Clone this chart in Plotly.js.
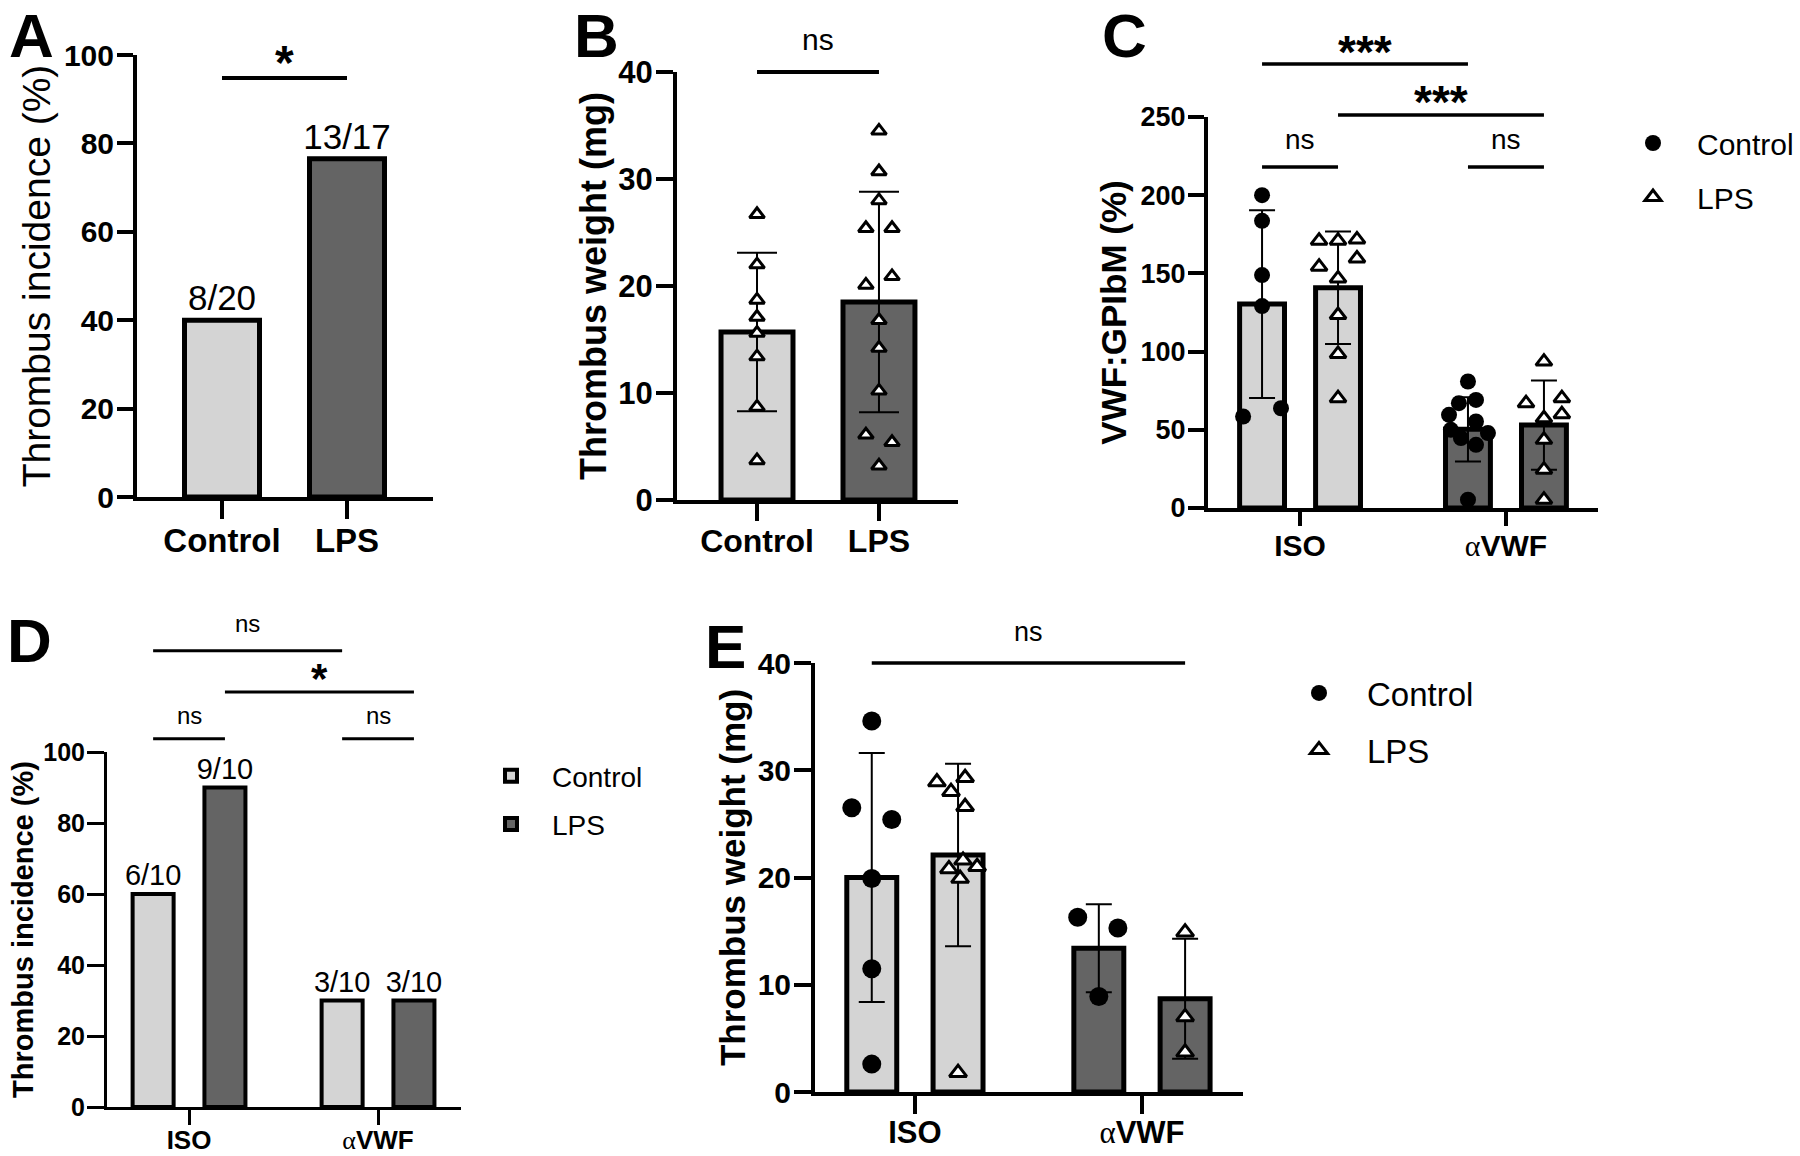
<!DOCTYPE html>
<html>
<head>
<meta charset="utf-8">
<script src="https://cdn.plot.ly/plotly-3.0.1.min.js"></script>
<style>html,body{margin:0;padding:0;background:#ffffff;}</style>
</head>
<body>
<div id="chart" style="width:1800px;height:1156px;"></div>
<script>
// ================= DATA =================
const twoGroupLabels = ['Control', 'LPS'];
const treatmentLabels = ['ISO', 'αVWF'];
const seriesNames = ['Control', 'LPS'];

// Panel A – thrombus incidence (%)
const incidenceA = [40.0, 76.5];
const incidenceALabels = ['8/20', '13/17'];

// Panel B – thrombus weight (mg)
const weightBMean = [15.7, 18.5];
const weightBSD = [7.4, 10.3];
const weightBControl = [26.7, 22.0, 18.7, 17.1, 15.6, 13.4, 8.7, 3.7];
const weightBLPS = [34.5, 30.7, 28.0, 25.4, 25.4, 20.1, 20.9, 16.8, 14.2, 10.2, 6.1, 5.4, 3.2];

// Panel C – VWF:GPIbM (%)
const vwfMeanControl = [130.4, 50.3];
const vwfSDControl = [60.0, 20.5];
const vwfMeanLPS = [140.8, 53.0];
const vwfSDLPS = [36.0, 28.5];
const vwfIsoControl = [200.0, 183.6, 148.9, 129.1, 58.5, 63.8];
const vwfIsoLPS = [170.9, 170.9, 171.7, 154.3, 159.6, 146.8, 123.4, 98.5, 70.2];
const vwfAvwfControl = [80.9, 67.0, 69.1, 59.6, 55.3, 50.0, 44.7, 40.4, 47.9, 5.3];
const vwfAvwfLPS = [93.6, 67.0, 70.2, 60.0, 57.4, 43.6, 24.5, 5.3];

// Panel D – thrombus incidence (%)
const incidenceDControl = [60, 30];
const incidenceDLPS = [90, 30];
const incidenceDControlLabels = ['6/10', '3/10'];
const incidenceDLPSLabels = ['9/10', '3/10'];

// Panel E – thrombus weight (mg)
const weightEMeanControl = [20.0, 13.4];
const weightESDControl = [11.6, 4.1];
const weightEMeanLPS = [22.1, 8.7];
const weightESDLPS = [8.5, 5.6];
const weightEIsoControl = [34.6, 26.5, 25.4, 19.9, 11.5, 2.6];
const weightEIsoLPS = [28.9, 29.3, 28.0, 26.6, 21.6, 20.8, 21.0, 19.9, 1.8];
const weightEAvwfControl = [16.3, 15.3, 8.9];
const weightEAvwfLPS = [14.9, 7.0, 3.7];

// Significance labels
const sigLabelsA = ['*'];
const sigLabelsB = ['ns'];
const sigLabelsC = ['***', '***', 'ns', 'ns'];
const sigLabelsD = ['ns', '*', 'ns', 'ns'];
const sigLabelsE = ['ns'];

// ================= LAYOUT / STYLE =================
const W = 1800, H = 1156;
const FONT = 'Arial, "Liberation Sans", Helvetica, sans-serif';
const LIGHT = '#d4d4d4', DARK = '#646464';
const px = v => v / W;
const py = v => 1 - v / H;

// horizontal spread of the dots (category units)
const jitter = {
  bControl: [0, 0, 0, 0, 0, 0, 0, 0],
  bLPS: [0, 0, 0, -0.107, 0.107, -0.107, 0.107, 0, 0, 0, -0.107, 0.107, 0],
  cIsoControl: [0, 0, 0, 0, -0.092, 0.092],
  cIsoLPS: [-0.092, 0, 0.092, -0.092, 0.092, 0, 0, 0, 0],
  cAvwfControl: [0, -0.044, 0.039, -0.092, 0.039, -0.083, -0.034, 0.039, 0.097, 0],
  cAvwfLPS: [0, -0.087, 0.087, 0.087, 0, 0, 0, 0],
  eIsoControl: [0, -0.088, 0.088, 0, 0, 0],
  eIsoLPS: [-0.093, 0.031, -0.031, 0.031, 0.022, -0.04, 0.084, 0.009, 0],
  eAvwfControl: [-0.093, 0.084, 0],
  eAvwfLPS: [0, 0, 0]
};

const P = {
  A: {x: 'x',  y: 'y',  xd: [137, 433],   yd: [55, 497],    xr: [-0.68, 1.688],  yr: [0, 100], dtick: 20},
  B: {x: 'x2', y: 'y2', xd: [677, 958],   yd: [72, 500],    xr: [-0.656, 1.648], yr: [0, 40],  dtick: 10},
  C: {x: 'x3', y: 'y3', xd: [1208, 1598], yd: [117, 508],   xr: [-0.447, 1.447], yr: [0, 250], dtick: 50},
  D: {x: 'x4', y: 'y4', xd: [107, 461],   yd: [752, 1107],  xr: [-0.434, 1.439], yr: [0, 100], dtick: 20},
  E: {x: 'x5', y: 'y5', xd: [815, 1243],  yd: [663, 1092],  xr: [-0.44, 1.445],  yr: [0, 40],  dtick: 10}
};
const seriesOffset = {C: 0.1845, D: 0.19, E: 0.19};
const barWidth = {A: 0.60, B: 0.59, C: 0.218, D: 0.217, E: 0.22};

function yPaper(k, v) {
  const p = P[k];
  const d0 = py(p.yd[1]), d1 = py(p.yd[0]);
  return d0 + (v - p.yr[0]) / (p.yr[1] - p.yr[0]) * (d1 - d0);
}
function pos(k, g, s) {
  if (s === null || s === undefined) return g;
  return g + (s === 0 ? -1 : 1) * seriesOffset[k];
}

const traces = [];

// ---- A
traces.push({
  type: 'bar', x: [0, 1], y: incidenceA, width: barWidth.A,
  xaxis: P.A.x, yaxis: P.A.y, showlegend: false,
  marker: {color: [LIGHT, DARK], line: {color: 'black', width: 5}},
  text: incidenceALabels, textposition: 'outside', constraintext: 'none', cliponaxis: false,
  textfont: {family: FONT, size: 35, color: 'black'}, hoverinfo: 'skip'
});

// ---- B
traces.push({
  type: 'bar', x: [0, 1], y: weightBMean, width: barWidth.B,
  xaxis: P.B.x, yaxis: P.B.y, showlegend: false,
  marker: {color: [LIGHT, DARK], line: {color: 'black', width: 5}},
  error_y: {type: 'data', array: weightBSD, visible: true, color: 'black', thickness: 2, width: 20},
  hoverinfo: 'skip'
});
const triB = {symbol: 'triangle-up', size: 13, color: 'white', line: {color: 'black', width: 3}};
traces.push({
  type: 'scatter', mode: 'markers', xaxis: P.B.x, yaxis: P.B.y, showlegend: false, cliponaxis: false,
  x: weightBControl.map((v, i) => 0 + jitter.bControl[i]), y: weightBControl, marker: triB
});
traces.push({
  type: 'scatter', mode: 'markers', xaxis: P.B.x, yaxis: P.B.y, showlegend: false, cliponaxis: false,
  x: weightBLPS.map((v, i) => 1 + jitter.bLPS[i]), y: weightBLPS, marker: triB
});

// ---- C
function groupedBar(k, s, means, sds, colors, extra) {
  const w = barWidth[k];
  const t = Object.assign({
    type: 'bar', x: [0, 1], y: means, width: w, offset: (s === 0 ? -seriesOffset[k] : seriesOffset[k]) - w / 2,
    xaxis: P[k].x, yaxis: P[k].y, showlegend: false, name: seriesNames[s],
    marker: {color: colors, line: {color: 'black', width: 5}}, cliponaxis: false, hoverinfo: 'skip'
  }, extra || {});
  if (sds) t.error_y = {type: 'data', array: sds, visible: true, color: 'black', thickness: 2, width: 13};
  return t;
}
traces.push(groupedBar('C', 0, vwfMeanControl, vwfSDControl, [LIGHT, DARK]));
traces.push(groupedBar('C', 1, vwfMeanLPS, vwfSDLPS, [LIGHT, DARK]));
traces.push({
  type: 'scatter', mode: 'markers', name: 'Control', legend: 'legend', legendgroup: 'cCtrl', showlegend: true,
  xaxis: P.C.x, yaxis: P.C.y, cliponaxis: false,
  x: vwfIsoControl.map((v, i) => pos('C', 0, 0) + jitter.cIsoControl[i])
      .concat(vwfAvwfControl.map((v, i) => pos('C', 1, 0) + jitter.cAvwfControl[i])),
  y: vwfIsoControl.concat(vwfAvwfControl),
  marker: {symbol: 'circle', size: 16, color: 'black', line: {width: 0}}
});
traces.push({
  type: 'scatter', mode: 'markers', name: 'LPS', legend: 'legend', legendgroup: 'cLps', showlegend: true,
  xaxis: P.C.x, yaxis: P.C.y, cliponaxis: false,
  x: vwfIsoLPS.map((v, i) => pos('C', 0, 1) + jitter.cIsoLPS[i])
      .concat(vwfAvwfLPS.map((v, i) => pos('C', 1, 1) + jitter.cAvwfLPS[i])),
  y: vwfIsoLPS.concat(vwfAvwfLPS),
  marker: {symbol: 'triangle-up', size: 14, color: 'white', line: {color: 'black', width: 3}}
});

// ---- D
traces.push(groupedBar('D', 0, incidenceDControl, null, LIGHT, {
  showlegend: true, legend: 'legend2', legendgroup: 'dCtrl',
  marker: {color: LIGHT, line: {color: 'black', width: 4}},
  text: incidenceDControlLabels, textposition: 'outside', constraintext: 'none',
  textfont: {family: FONT, size: 29, color: 'black'}
}));
traces.push(groupedBar('D', 1, incidenceDLPS, null, DARK, {
  showlegend: true, legend: 'legend2', legendgroup: 'dLps',
  marker: {color: DARK, line: {color: 'black', width: 4}},
  text: incidenceDLPSLabels, textposition: 'outside', constraintext: 'none',
  textfont: {family: FONT, size: 29, color: 'black'}
}));

// ---- E
traces.push(groupedBar('E', 0, weightEMeanControl, weightESDControl, [LIGHT, DARK]));
traces.push(groupedBar('E', 1, weightEMeanLPS, weightESDLPS, [LIGHT, DARK]));
traces.push({
  type: 'scatter', mode: 'markers', name: 'Control', legend: 'legend3', legendgroup: 'eCtrl', showlegend: true,
  xaxis: P.E.x, yaxis: P.E.y, cliponaxis: false,
  x: weightEIsoControl.map((v, i) => pos('E', 0, 0) + jitter.eIsoControl[i])
      .concat(weightEAvwfControl.map((v, i) => pos('E', 1, 0) + jitter.eAvwfControl[i])),
  y: weightEIsoControl.concat(weightEAvwfControl),
  marker: {symbol: 'circle', size: 19, color: 'black', line: {width: 0}}
});
traces.push({
  type: 'scatter', mode: 'markers', name: 'LPS', legend: 'legend3', legendgroup: 'eLps', showlegend: true,
  xaxis: P.E.x, yaxis: P.E.y, cliponaxis: false,
  x: weightEIsoLPS.map((v, i) => pos('E', 0, 1) + jitter.eIsoLPS[i])
      .concat(weightEAvwfLPS.map((v, i) => pos('E', 1, 1) + jitter.eAvwfLPS[i])),
  y: weightEIsoLPS.concat(weightEAvwfLPS),
  marker: {symbol: 'triangle-up', size: 15, color: 'white', line: {color: 'black', width: 3}}
});

// ---- axes
const alpha = '<span style="font-family:Liberation Serif, serif;font-weight:400">α</span>VWF';
const treatTickText = ['ISO', alpha];

function xAxis(k, ticktext, fsize, ticklen, lw, standoff) {
  const p = P[k];
  return {
    domain: [px(p.xd[0]), px(p.xd[1])], range: p.xr, anchor: p.y,
    tickmode: 'array', tickvals: [0, 1], ticktext: ticktext,
    showline: true, linecolor: 'black', linewidth: lw,
    ticks: 'outside', ticklen: ticklen, tickwidth: lw, tickcolor: 'black',
    ticklabelstandoff: standoff,
    tickfont: {family: FONT, size: fsize, color: 'black', weight: 700},
    showgrid: false, zeroline: false, fixedrange: true
  };
}
function yAxis(k, title, tsize, tweight, fsize, ticklen, lw, standoff) {
  const p = P[k];
  return {
    domain: [py(p.yd[1]), py(p.yd[0])], range: p.yr, anchor: p.x,
    tickmode: 'linear', tick0: 0, dtick: p.dtick,
    showline: true, linecolor: 'black', linewidth: lw,
    ticks: 'outside', ticklen: ticklen, tickwidth: lw, tickcolor: 'black',
    ticklabelstandoff: -3,
    tickfont: {family: FONT, size: fsize, color: 'black', weight: 700},
    title: {text: title, font: {family: FONT, size: tsize, color: 'black', weight: tweight}, standoff: standoff},
    showgrid: false, zeroline: false, fixedrange: true
  };
}

const layout = {
  width: W, height: H,
  margin: {l: 0, r: 0, t: 0, b: 0, pad: 0},
  paper_bgcolor: 'white', plot_bgcolor: 'rgba(0,0,0,0)',
  barmode: 'overlay',
  font: {family: FONT, color: 'black'},
  showlegend: true,
  xaxis: xAxis('A', twoGroupLabels, 33, 18, 4, -7),
  yaxis: yAxis('A', 'Thrombus incidence (%)', 39, 400, 30, 16, 4, 2),
  xaxis2: xAxis('B', twoGroupLabels, 32, 17, 4, -7),
  yaxis2: yAxis('B', 'Thrombus weight (mg)', 36, 700, 31, 17, 4, 2),
  xaxis3: xAxis('C', treatTickText, 30, 14, 4, -6),
  yaxis3: yAxis('C', 'VWF:GPIbM (%)', 35, 700, 27, 16, 4, 4),
  xaxis4: xAxis('D', treatTickText, 26, 15, 3, -7),
  yaxis4: yAxis('D', 'Thrombus incidence (%)', 29, 700, 25, 17, 3, 2),
  xaxis5: xAxis('E', treatTickText, 31, 18, 4, -8),
  yaxis5: yAxis('E', 'Thrombus weight (mg)', 35, 700, 30, 17, 4, 2),
  legend: {x: px(1609), xanchor: 'left', y: py(117), yanchor: 'top', orientation: 'v',
    font: {family: FONT, size: 30, color: 'black'}, itemwidth: 78, tracegroupgap: 12,
    bgcolor: 'rgba(0,0,0,0)', borderwidth: 0},
  legend2: {x: px(470), xanchor: 'left', y: py(751), yanchor: 'top', orientation: 'v',
    font: {family: FONT, size: 28, color: 'black'}, itemwidth: 72, tracegroupgap: 9,
    bgcolor: 'rgba(0,0,0,0)', borderwidth: 0},
  legend3: {x: px(1271), xanchor: 'left', y: py(665), yanchor: 'top', orientation: 'v',
    font: {family: FONT, size: 33, color: 'black'}, itemwidth: 86, tracegroupgap: 11,
    bgcolor: 'rgba(0,0,0,0)', borderwidth: 0},
  shapes: [],
  annotations: []
};

// ---- significance brackets: [panel, group0, series0, group1, series1, lineValue, textValue, label, fontSize, bold, lineWidth]
const brackets = [
  ['A', 0, null, 1, null, 94.8, 98.2, sigLabelsA[0], 48, true, 4],
  ['B', 0, null, 1, null, 40.0, 43.0, sigLabelsB[0], 30, false, 4],
  ['C', 0, 0, 1, 0, 283.9, 291.6, sigLabelsC[0], 46, true, 3.5],
  ['C', 0, 1, 1, 1, 251.3, 259.6, sigLabelsC[1], 46, true, 3.5],
  ['C', 0, 0, 0, 1, 218.0, 235.3, sigLabelsC[2], 28, false, 3.5],
  ['C', 1, 0, 1, 1, 218.0, 235.3, sigLabelsC[3], 28, false, 3.5],
  ['D', 0, 0, 1, 0, 128.5, 136.3, sigLabelsD[0], 24, false, 3],
  ['D', 0, 1, 1, 1, 116.9, 120.8, sigLabelsD[1], 42, true, 3],
  ['D', 0, 0, 0, 1, 103.7, 110.4, sigLabelsD[2], 24, false, 3],
  ['D', 1, 0, 1, 1, 103.7, 110.4, sigLabelsD[3], 24, false, 3],
  ['E', 0, 0, 1, 1, 40.0, 42.9, sigLabelsE[0], 27, false, 3.5]
];
brackets.forEach(b => {
  const [k, g0, s0, g1, s1, lv, tv, label, fs, bold, lw] = b;
  const x0 = pos(k, g0, s0), x1 = pos(k, g1, s1);
  layout.shapes.push({type: 'line', xref: P[k].x, yref: 'paper', x0: x0, x1: x1,
    y0: yPaper(k, lv), y1: yPaper(k, lv), line: {color: 'black', width: lw}});
  layout.annotations.push({xref: P[k].x, yref: 'paper', x: (x0 + x1) / 2, y: yPaper(k, tv),
    text: label, showarrow: false, xanchor: 'center', yanchor: 'middle',
    font: {family: FONT, size: fs, color: 'black', weight: bold ? 700 : 400}});
});

// ---- panel letters (top row anchored to the top edge so they are not cut)
[['A', 31, 0, 'top'], ['B', 596, 0, 'top'], ['C', 1124, 0, 'top'],
 ['D', 29, 640, 'middle'], ['E', 725, 646, 'middle']].forEach(l => {
  layout.annotations.push({xref: 'paper', yref: 'paper', x: px(l[1]), y: py(l[2]), text: l[0],
    showarrow: false, xanchor: 'center', yanchor: l[3], borderpad: 0,
    font: {family: FONT, size: 62, color: 'black', weight: 700}});
});

Plotly.newPlot('chart', traces, layout, {displayModeBar: false, staticPlot: true});
</script>
</body>
</html>
